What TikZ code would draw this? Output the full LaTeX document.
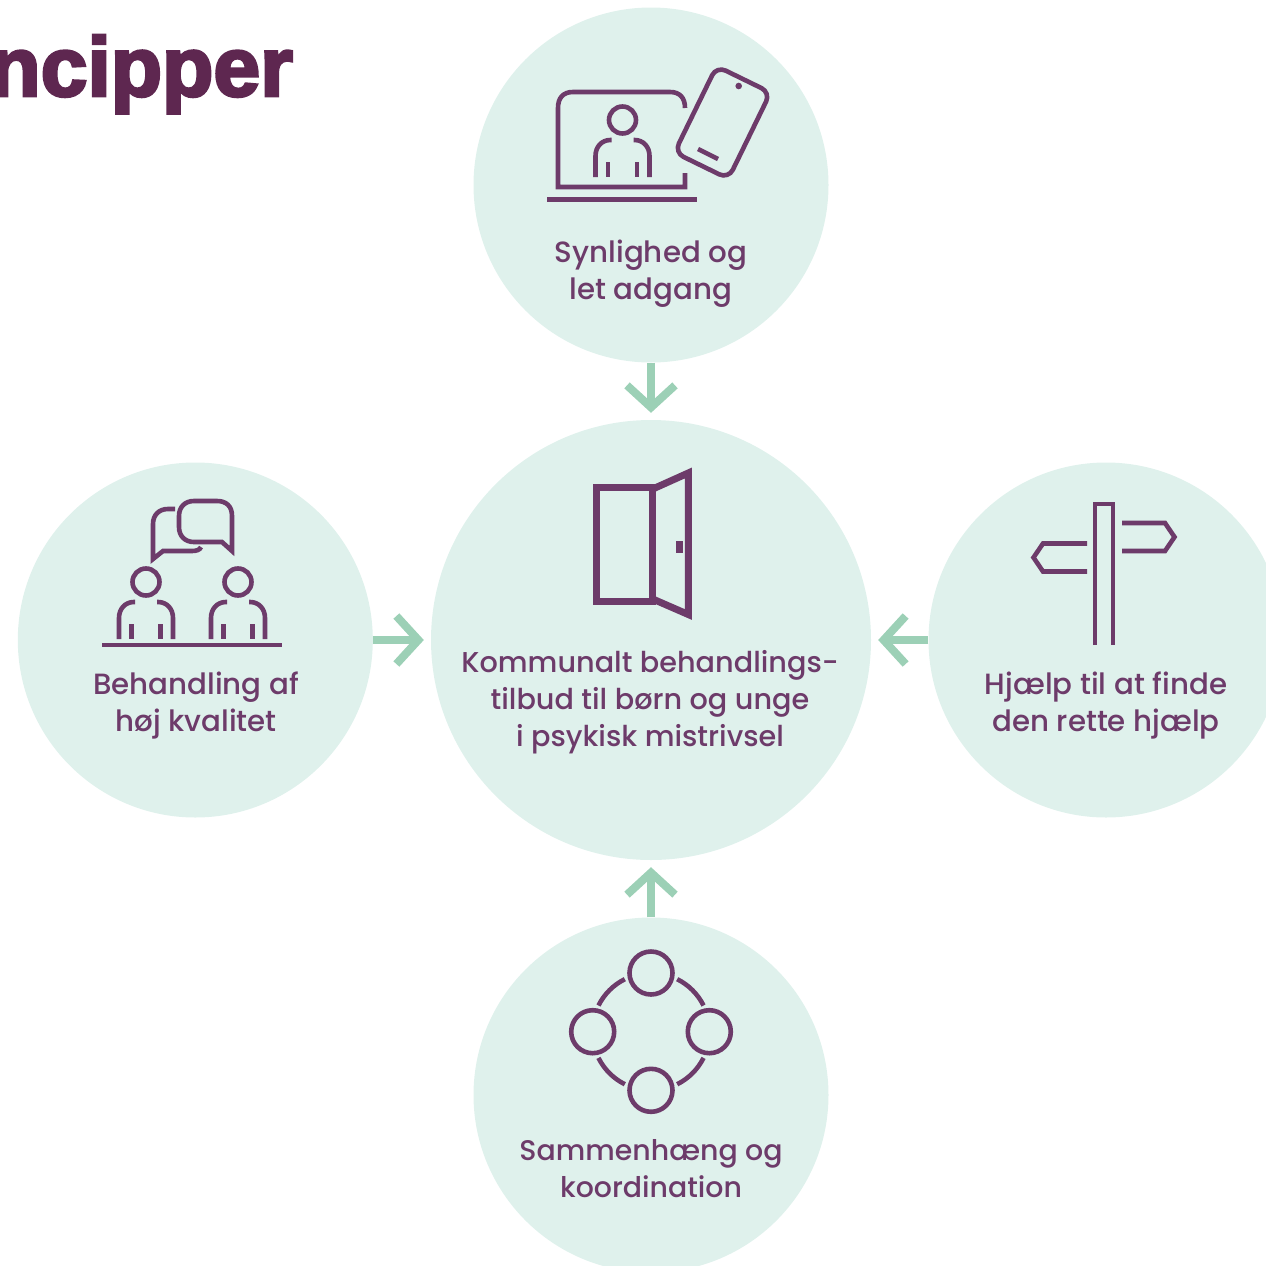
\documentclass[tikz,border=0pt]{standalone}
\usepackage{fontspec}
\usetikzlibrary{arrows.meta}
\newfontfamily\lblfont{Poppins Medium}
\newfontfamily\logofont{Liberation Sans}[BoldFeatures={FakeBold=3.5}]
\definecolor{disc}{HTML}{DFF1EC}
\definecolor{plum}{HTML}{6D3B6A}
\definecolor{logoplum}{HTML}{5E2750}
\definecolor{arrowgreen}{HTML}{9CD0B6}
\tikzset{
  disc/.style={circle,fill=disc,inner sep=0pt,minimum size=#1},
  label text/.style={text=plum,align=center,font=\lblfont\fontsize{#1}{37}\selectfont},
  icon/.style={draw=plum,line width=4.6pt,line cap=butt,line join=miter},
  feed/.style={draw=arrowgreen,line width=8pt,shorten >=7pt,
    -{Straight Barb[length=22pt,width=48pt,line width=8pt]}},
}
% person icon: #1 = x of centre, #2 = y of head centre
\newcommand{\personicon}[2]{%
  \draw[icon] (#1,#2) circle[radius=13.5pt];
  \draw[icon] (#1-11,#2+20) -- (#1-12,#2+20) .. controls (#1-21,#2+20) and (#1-27,#2+27) .. (#1-27,#2+36) -- (#1-27,#2+57);
  \draw[icon] (#1+11,#2+20) -- (#1+12,#2+20) .. controls (#1+21,#2+20) and (#1+27,#2+27) .. (#1+27,#2+36) -- (#1+27,#2+57);
  \draw[icon] (#1-14.5,#2+42) -- (#1-14.5,#2+57);
  \draw[icon] (#1+14.5,#2+42) -- (#1+14.5,#2+57);
}
\begin{document}
\begin{tikzpicture}[x=1pt,y=-1pt]
\useasboundingbox (0,0) rectangle (1266,1266);
\begin{scope}
\clip (0,0) rectangle (1266,1266);
\node[disc=355pt] (top) at (651,185) {};
\node[disc=355pt] (left) at (195.3,640) {};
\node[disc=355pt] (right) at (1106,640) {};
\node[disc=355pt] (bottom) at (651,1095) {};
\node[disc=440pt] (centre) at (651,640) {};
\node[anchor=base east,inner sep=0pt,text=logoplum,font=\logofont\bfseries\fontsize{84}{84}\selectfont] (logo) at (293,96) {ncipper};
\end{scope}
\draw[feed] (top) -- (centre);
\draw[feed] (left) -- (centre);
\draw[feed] (right) -- (centre);
\draw[feed] (bottom) -- (centre);
\node[label text=29.3] (ttop) at (651,273.5) {Synlighed og\\let adgang};
\node[label text=29.3] (tleft) at (196,706) {Behandling af\\høj kvalitet};
\node[label text=29.3] (tright) at (1106,706) {Hjælp til at finde\\den rette hjælp};
\node[label text=28.4] (tbottom) at (651,1169) {Sammenhæng og\\koordination};
\node[label text=28.7] (tcentre) at (650,702) {Kommunalt behandlings-\\tilbud til børn og unge\\i psykisk mistrivsel};
% laptop and phone
\draw[icon] (685,108) .. controls (685,98) and (680,92) .. (670,92) -- (573,92) .. controls (563,92) and (558,98) .. (558,108) -- (558,187) -- (685,187) -- (685,173);
\draw[icon,line width=5pt] (547,199) -- (697,199);
\personicon{622.5}{120}
\begin{scope}[shift={(722.5,122.5)},rotate=-26]
\draw[icon,rounded corners=10pt] (-30,-48) rectangle (30,48);
\end{scope}
\fill[plum] (738.7,86) circle[radius=3.3pt];
\draw[icon] (698,149) -- (718,159);
% conversation icon
\draw[icon] (222,542) -- (232,551) -- (232,516) .. controls (232,506) and (226,501) .. (217,501) -- (194,501) .. controls (185,501) and (179,507) .. (179,516) -- (179,527) .. controls (179,536) and (185,542) .. (194,542) -- cycle;
\draw[icon] (175,509) -- (168,509) .. controls (159,509) and (153,515) .. (153,524) -- (153,559) -- (163,551) -- (192,551) .. controls (196,551) and (200,550) .. (201,547);
\personicon{146}{582}
\personicon{238}{582}
\draw[icon] (102,645) -- (282,645);
% signpost
\draw[icon] (1095,645) -- (1095,504) -- (1113,504) -- (1113,645);
\draw[icon] (1122,523) -- (1165,523) -- (1174.5,537) -- (1165,551) -- (1122,551);
\draw[icon] (1087,543.5) -- (1043,543.5) -- (1033.5,557.5) -- (1043,571.5) -- (1087,571.5);
% door
\draw[icon,line width=7pt] (652.7,487.7) -- (596.8,487.7) -- (596.8,601) -- (652.7,601) -- cycle;
\draw[icon,line width=7pt] (652.7,489) -- (688.3,473) -- (688.3,614.5) -- (652.7,599);
\fill[plum] (676,540.7) rectangle (682.7,553.3);
% network
\draw[icon] (651,973) circle[radius=21.5pt];
\draw[icon] (592.7,1031.7) circle[radius=21.5pt];
\draw[icon] (709.3,1031.7) circle[radius=21.5pt];
\draw[icon] (651,1090.3) circle[radius=21.5pt];
\coordinate (ring) at (651,1031.7);
\draw[icon] ([shift={(26.5:58.7pt)}]ring) arc[start angle=26.5,end angle=63.5,radius=58.7pt];
\draw[icon] ([shift={(116.5:58.7pt)}]ring) arc[start angle=116.5,end angle=153.5,radius=58.7pt];
\draw[icon] ([shift={(206.5:58.7pt)}]ring) arc[start angle=206.5,end angle=243.5,radius=58.7pt];
\draw[icon] ([shift={(296.5:58.7pt)}]ring) arc[start angle=296.5,end angle=333.5,radius=58.7pt];
\end{tikzpicture}
\end{document}
